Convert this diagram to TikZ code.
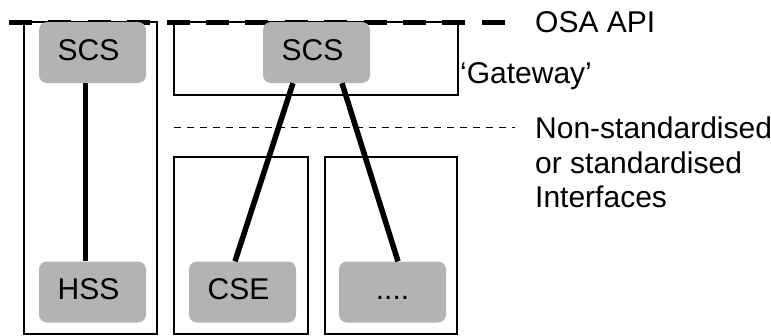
\documentclass[tikz,border=0pt]{standalone}
\usepackage{fontspec}
\setmainfont{Liberation Sans}
\definecolor{boxgray}{HTML}{B3B3B3}
\newcommand{\compleft}[1]{\hspace*{-8pt}#1}
\begin{document}
\begin{tikzpicture}[x=1pt,y=-1pt,
  comp/.style={fill=boxgray,draw=none,rounded corners=8pt,minimum width=107pt,minimum height=61pt,inner sep=0pt,text height=21.5pt,text depth=6pt,font=\fontsize{30}{36}\selectfont},
  frame/.style={draw=black,line width=1.3pt},
  link/.style={draw=black,line width=5.5pt},
  apiline/.style={draw=black,line width=5pt,dash pattern=on 23pt off 16.4pt},
  ifline/.style={draw=black,line width=1pt,dash pattern=on 7pt off 6pt},
  lbl/.style={anchor=base west,inner sep=0pt,font=\fontsize{30}{36}\selectfont}]
\useasboundingbox (0,0) rectangle (771,335);
% container frames
\draw[frame] (24,22) rectangle (157,334);
\draw[frame] (174,22) rectangle (458,95);
\draw[frame] (174,157) rectangle (308,334);
\draw[frame] (325,157) rectangle (457,334);
% OSA API line
\coordinate (apiA) at (9,22);
\coordinate (apiB) at (505,22);
\draw[apiline] (apiA) -- (apiB);
% interface line
\coordinate (ifA) at (174,127);
\coordinate (ifB) at (515,127);
\draw[ifline] (ifA) -- (ifB);
% components
\node[comp] (scsA) at (92.5,52.5) {\compleft{SCS}};
\node[comp] (scsB) at (316.5,52.5) {\compleft{SCS}};
\node[comp] (hss) at (92.5,292) {\compleft{HSS}};
\node[comp] (cse) at (242.5,292) {\compleft{CSE}};
\node[comp] (dots) at (392.5,292) {....};
% connectors
\draw[link] ([xshift=-7pt]scsA.south) -- ([xshift=-7pt]hss.north);
\draw[link] ([xshift=-23.5pt]scsB.south) -- ([xshift=-7.5pt]cse.north);
\draw[link] ([xshift=25.5pt]scsB.south) -- ([xshift=5.5pt]dots.north);
% labels
\node[lbl] (osa) at (535,32.5) {OSA API};
\node[lbl] (gw) at (460,83.5) {‘Gateway’};
\node[lbl] (ns1) at (535,138.5) {Non-standardised};
\node[lbl] (ns2) at (535,173) {or standardised};
\node[lbl] (ns3) at (535,207.5) {Interfaces};
\end{tikzpicture}
\end{document}
